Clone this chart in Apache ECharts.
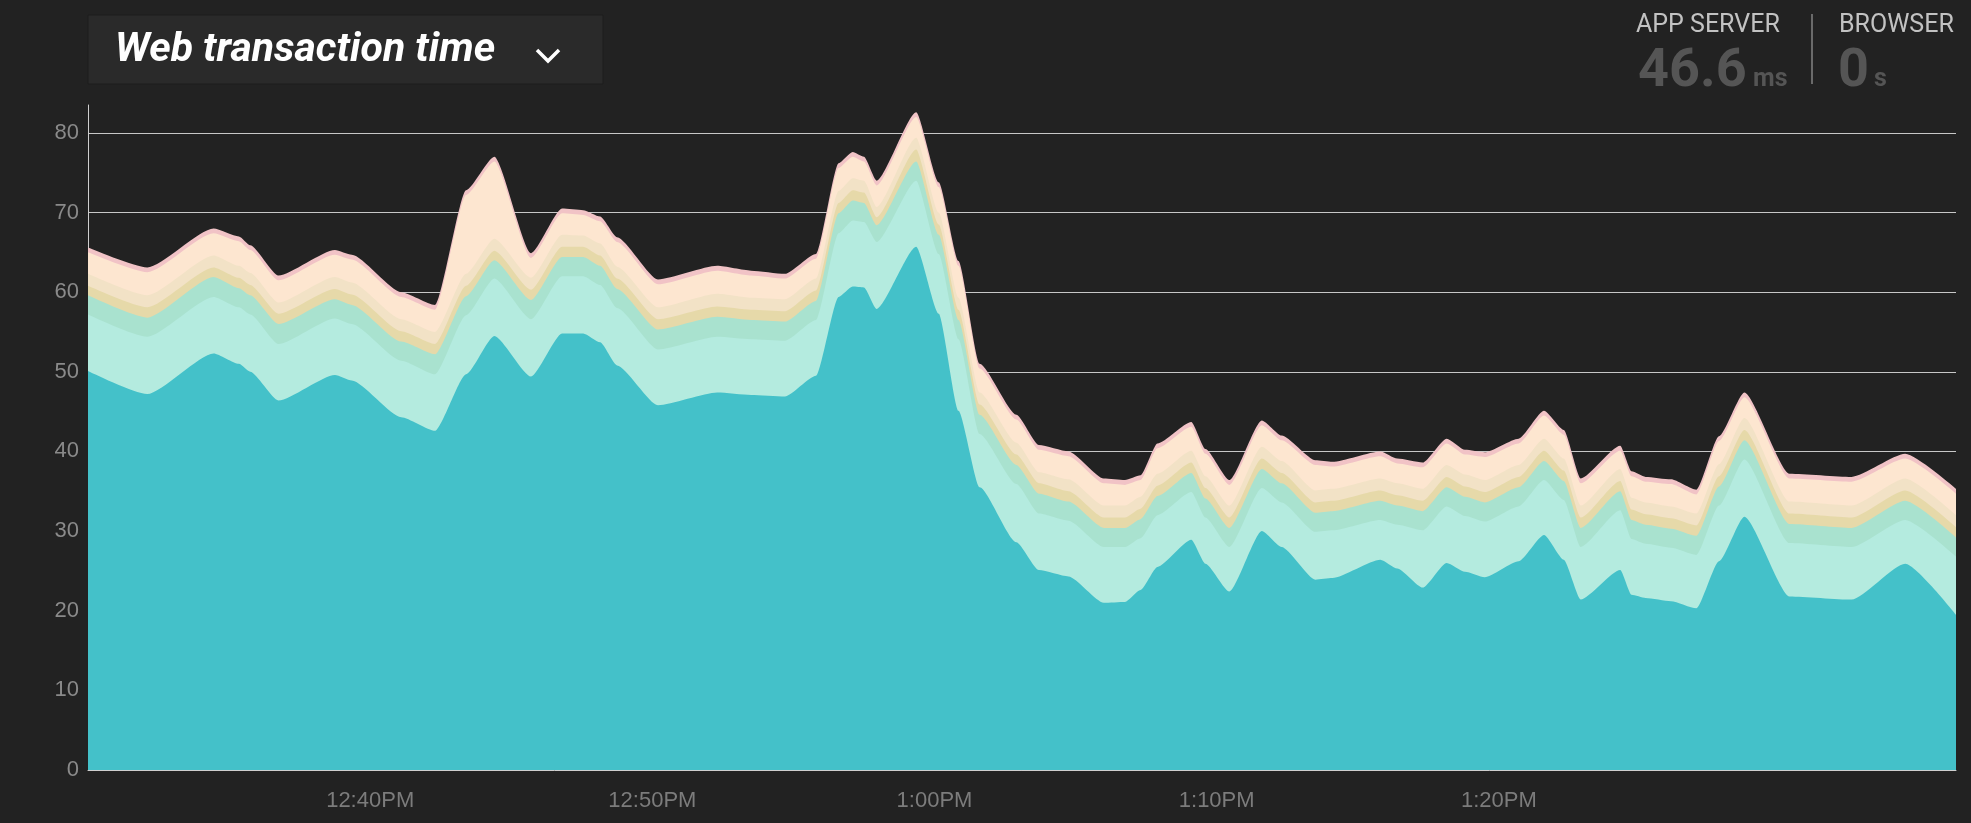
<!DOCTYPE html>
<html>
<head>
<meta charset="utf-8">
<title>Web transaction time</title>
<script src="https://cdn.jsdelivr.net/npm/echarts@6/dist/echarts.min.js"></script>
<style>
  html, body { margin: 0; padding: 0; background: #222222; }
  #chart { width: 1971px; height: 823px; }
</style>
</head>
<body>
<div id="chart"></div>
<script>
// minutes after 12:30PM
var minutes = [0, 2.1, 4.45, 5.35, 5.75, 6.75, 8.75, 9.35, 11.1, 12.3,
  13.4, 14.4, 15.7, 16.8, 17.55, 18.15, 18.75, 20.2, 22.3, 23.5,
  24.7, 25.8, 26.6, 27.1, 27.5, 27.95, 29.35, 30.15, 30.85, 31.6,
  32.9, 33.7, 34.75, 36.0, 36.75, 37.3, 37.9, 39.1, 39.6, 40.45,
  41.6, 42.3, 43.5, 44.1, 45.8, 46.4, 47.3, 48.15, 48.8, 49.5,
  50.7, 51.6, 52.3, 52.9, 54.3, 54.7, 55.2, 56.1, 57.0, 57.8,
  58.7, 60.3, 62.5, 64.4, 66.2];

// x axis labels
var tickMinutes = [10, 20, 30, 40, 50];
var tickLabels = ['12:40PM', '12:50PM', '1:00PM', '1:10PM', '1:20PM'];

// layer values (ms), bottom to top
var teal = [50.1, 47.2, 52.3, 51.0, 50.0, 46.4, 49.6, 48.9, 44.3, 42.6,
  49.7, 54.5, 49.4, 54.8, 54.8, 53.7, 50.8, 45.8, 47.4, 47.1,
  46.9, 49.5, 59.4, 60.7, 60.6, 57.9, 65.7, 57.3, 45.1, 35.5,
  28.6, 25.1, 24.3, 21.0, 21.1, 22.6, 25.5, 28.9, 25.9, 22.4,
  30.0, 28.0, 23.9, 24.1, 26.4, 25.3, 22.9, 26.0, 24.9, 24.2,
  26.2, 29.5, 26.4, 21.4, 25.1, 22.0, 21.6, 21.2, 20.3, 26.2,
  31.8, 21.8, 21.4, 25.9, 19.5];
var mint = [7.1, 7.2, 7.1, 7.1, 7.2, 7.1, 7.1, 7.1, 7.1, 7.1,
  7.4, 7.2, 7.2, 7.2, 7.2, 7.2, 7.2, 7.0, 7.0, 7.0,
  7.0, 7.0, 8.0, 8.3, 8.2, 8.4, 8.3, 7.5, 9.0, 6.7,
  7.3, 7.1, 7.0, 7.0, 6.9, 6.5, 6.5, 6.0, 5.8, 5.6,
  5.4, 5.6, 6.0, 6.0, 5.0, 5.5, 7.2, 7.1, 7.0, 7.0,
  6.9, 6.9, 7.5, 6.6, 7.5, 7.0, 6.8, 6.7, 6.7, 7.0,
  7.2, 6.7, 6.6, 5.5, 7.3];
var seafoam = [2.4, 2.4, 2.5, 2.4, 2.4, 2.5, 2.4, 2.4, 2.4, 2.5,
  2.4, 2.3, 2.4, 2.4, 2.4, 2.4, 2.4, 2.5, 2.5, 2.4,
  2.4, 2.4, 2.5, 2.5, 2.4, 2.1, 2.4, 2.4, 2.4, 2.4,
  2.4, 2.5, 2.4, 2.4, 2.4, 2.4, 2.4, 2.4, 2.4, 2.4,
  2.4, 2.4, 2.4, 2.4, 2.4, 2.4, 2.4, 2.4, 2.4, 2.4,
  2.4, 2.4, 2.4, 2.4, 2.4, 2.4, 2.4, 2.4, 2.4, 2.4,
  2.4, 2.4, 2.4, 2.4, 2.4];
var khaki = [1.2, 1.3, 1.2, 1.3, 1.3, 1.3, 1.3, 1.3, 1.3, 1.3,
  1.3, 1.2, 1.3, 1.3, 1.3, 1.3, 1.3, 1.3, 1.3, 1.3,
  1.3, 1.3, 1.3, 1.3, 1.3, 1.0, 1.5, 1.3, 1.3, 1.3,
  1.3, 1.3, 1.3, 1.3, 1.3, 1.3, 1.3, 1.3, 1.3, 1.3,
  1.3, 1.3, 1.3, 1.3, 1.3, 1.3, 1.3, 1.3, 1.3, 1.3,
  1.3, 1.3, 1.3, 1.3, 1.3, 1.3, 1.3, 1.3, 1.3, 1.3,
  1.3, 1.3, 1.3, 1.3, 1.3];
var sand = [1.5, 1.5, 1.5, 1.5, 1.5, 1.4, 1.5, 1.5, 1.5, 1.5,
  1.5, 1.5, 1.5, 1.5, 1.4, 1.5, 1.5, 1.5, 1.6, 1.5,
  1.5, 1.5, 1.5, 1.5, 1.5, 1.3, 1.5, 1.5, 1.5, 1.5,
  1.5, 1.4, 1.5, 1.5, 1.5, 1.5, 1.5, 1.5, 1.5, 1.5,
  1.5, 1.5, 1.5, 1.5, 1.5, 1.5, 1.5, 1.5, 1.5, 1.5,
  1.5, 1.5, 1.5, 1.5, 1.5, 1.5, 1.5, 1.5, 1.5, 1.5,
  1.5, 1.5, 1.5, 1.5, 1.5];
var peach = [2.7, 2.9, 2.8, 3.1, 2.9, 2.8, 2.8, 2.9, 2.8, 2.8,
  9.9, 9.7, 2.5, 2.7, 2.6, 2.8, 3.1, 2.9, 2.9, 2.8,
  2.6, 2.5, 2.9, 2.7, 2.4, 2.7, 2.6, 3.2, 4.0, 3.0,
  2.9, 2.8, 2.9, 2.8, 2.6, 2.1, 3.2, 3.0, 2.8, 2.6,
  2.7, 2.6, 3.2, 2.8, 2.8, 2.5, 2.7, 2.7, 2.5, 2.9,
  2.7, 2.9, 3.0, 2.8, 2.3, 2.7, 2.6, 2.8, 2.4, 2.9,
  2.6, 2.9, 3.0, 2.5, 2.7];
var pink = [0.6, 0.6, 0.6, 0.6, 0.6, 0.6, 0.6, 0.6, 0.6, 0.6,
  0.6, 0.6, 0.6, 0.6, 0.6, 0.6, 0.6, 0.6, 0.6, 0.6,
  0.6, 0.6, 0.6, 0.6, 0.6, 0.6, 0.6, 0.6, 0.6, 0.6,
  0.6, 0.6, 0.6, 0.6, 0.6, 0.6, 0.6, 0.6, 0.6, 0.6,
  0.6, 0.6, 0.6, 0.6, 0.6, 0.6, 0.6, 0.6, 0.6, 0.6,
  0.6, 0.6, 0.6, 0.6, 0.6, 0.6, 0.6, 0.6, 0.6, 0.6,
  0.6, 0.6, 0.6, 0.6, 0.6];

var layers = [teal, mint, seafoam, khaki, sand, peach, pink];
var layerColors = ['#44c1c9', '#b4ebdf', '#a9e2cf', '#e6d9a9', '#f2e2c6', '#fde6d0', '#f1c3c6'];

// stack by hand (x axis is a value axis), then paint top layer first
var running = minutes.map(function () { return 0; });
var series = layers.map(function (values, i) {
  running = running.map(function (sum, j) { return sum + values[j]; });
  var points = minutes.map(function (m, j) { return [m, Math.round(running[j] * 100) / 100]; });
  return {
    type: 'line',
    data: points,
    smooth: 0.2,
    smoothMonotone: 'x',
    showSymbol: false,
    silent: true,
    lineStyle: { width: 0 },
    areaStyle: { color: layerColors[i], opacity: 1 }
  };
}).reverse();

var myChart = echarts.init(document.getElementById('chart'));
myChart.setOption({
  backgroundColor: '#222222',
  animation: false,
  grid: { left: 88, right: 15, top: 105, bottom: 53 },
  xAxis: {
    type: 'value',
    min: 0,
    max: 66.2,
    interval: 10,
    axisLine: { show: true, lineStyle: { color: '#cfcfcf', width: 1 } },
    axisTick: { show: false },
    splitLine: { show: false },
    axisLabel: {
      color: '#7c7c7c',
      fontFamily: 'Liberation Sans',
      fontSize: 22,
      margin: 20,
      formatter: function (v) {
        var k = tickMinutes.indexOf(v);
        return k < 0 ? '' : tickLabels[k];
      }
    }
  },
  yAxis: {
    type: 'value',
    min: 0,
    max: 83.5,
    interval: 10,
    axisLine: { show: true, lineStyle: { color: '#cfcfcf', width: 1 } },
    axisTick: { show: false },
    splitLine: {
      show: true,
      showMinLine: false,
      showMaxLine: false,
      lineStyle: { color: '#c8c8c8', width: 1 }
    },
    axisLabel: {
      color: '#8a8a8a',
      fontFamily: 'Liberation Sans',
      fontSize: 22,
      margin: 9,
      showMaxLabel: false
    }
  },
  graphic: [
    {
      type: 'rect',
      shape: { x: 88, y: 15, width: 515, height: 69 },
      style: { fill: '#2a2a2a', stroke: '#1c1c1c', lineWidth: 1 }
    },
    {
      type: 'text',
      x: 115, y: 51,
      style: {
        text: 'Web transaction time',
        fill: '#ffffff',
        font: 'italic bold 41px Roboto',
        verticalAlign: 'middle', textVerticalAlign: 'middle'
      }
    },
    {
      type: 'polyline',
      shape: { points: [[537, 50], [548, 61], [559, 50]] },
      style: { stroke: '#ffffff', lineWidth: 3.5, fill: null }
    },
    {
      type: 'text', x: 1636, y: 25.5,
      style: { text: 'APP SERVER', fill: '#c2c2c2', font: '25px Roboto', verticalAlign: 'middle', textVerticalAlign: 'middle' }
    },
    {
      type: 'text', x: 1638, y: 72,
      style: { text: '46.6', fill: '#555555', font: 'bold 54px Roboto', verticalAlign: 'middle', textVerticalAlign: 'middle' }
    },
    {
      type: 'text', x: 1753, y: 80,
      style: { text: 'ms', fill: '#555555', font: 'bold 25px Roboto', verticalAlign: 'middle', textVerticalAlign: 'middle' }
    },
    {
      type: 'line',
      shape: { x1: 1812, y1: 14, x2: 1812, y2: 84 },
      style: { stroke: '#6a6a6a', lineWidth: 2 }
    },
    {
      type: 'text', x: 1839, y: 25.5,
      style: { text: 'BROWSER', fill: '#c2c2c2', font: '25px Roboto', verticalAlign: 'middle', textVerticalAlign: 'middle' }
    },
    {
      type: 'text', x: 1838, y: 72,
      style: { text: '0', fill: '#555555', font: 'bold 54px Roboto', verticalAlign: 'middle', textVerticalAlign: 'middle' }
    },
    {
      type: 'text', x: 1874, y: 80,
      style: { text: 's', fill: '#555555', font: 'bold 25px Roboto', verticalAlign: 'middle', textVerticalAlign: 'middle' }
    }
  ],
  series: series
});
</script>
</body>
</html>
